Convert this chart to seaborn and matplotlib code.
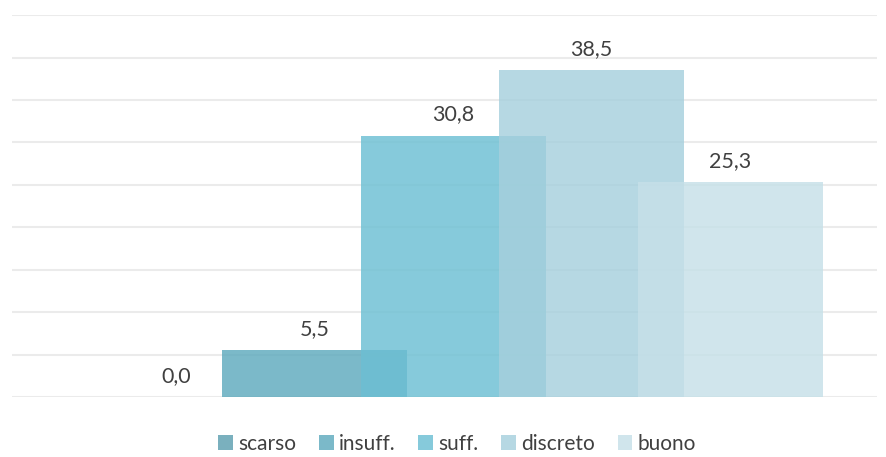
import seaborn as sns
import matplotlib.pyplot as plt
from matplotlib.patches import Patch

# data
categories = ['scarso', 'insuff.', 'suff.', 'discreto', 'buono']
values = [0.0, 5.5, 30.8, 38.5, 25.3]
colors = ['#5d9fb0', '#5eaabd', '#6cbfd3', '#a6d0dd', '#c6e0e8']

sns.set_style('white')
plt.rcParams['font.family'] = ['Lato', 'DejaVu Sans']

fig = plt.figure(figsize=(8.86, 4.57), dpi=100)
ax = fig.add_axes([0.0135, 0.131, 0.9765, 0.836])

sns.barplot(x=categories, y=values, hue=categories, palette=colors,
            width=1.336, saturation=1, alpha=0.82, legend=False,
            linewidth=0, ax=ax)

# value labels above each bar
for i, v in enumerate(values):
    ax.annotate(f'{v:.1f}'.replace('.', ','), (i, v), xytext=(0, 8),
                textcoords='offset points', ha='center', va='bottom',
                fontsize=15.5, color='#404040')

ax.set_ylim(0, 45)
ax.set_xlim(-1.184, 5.06)
ax.set_yticks(range(0, 46, 5))
ax.yaxis.grid(True, color='#ebebeb', linewidth=1.5)
ax.set_axisbelow(True)
ax.set_xticks([])
ax.set_yticklabels([])
ax.tick_params(left=False, bottom=False)
ax.set_xlabel('')
ax.set_ylabel('')
sns.despine(ax=ax, left=True, bottom=True)

handles = [Patch(facecolor=c, alpha=0.82, linewidth=0) for c in colors]
fig.legend(handles, categories, loc='lower center', bbox_to_anchor=(0.516, 0.0),
           ncol=5, frameon=False, fontsize=15, handlelength=0.7, handleheight=0.7,
           handletextpad=0.25, columnspacing=1.1, borderpad=0.1,
           borderaxespad=0.05, labelcolor='#404040')

fig.savefig('out.png', dpi=100)
